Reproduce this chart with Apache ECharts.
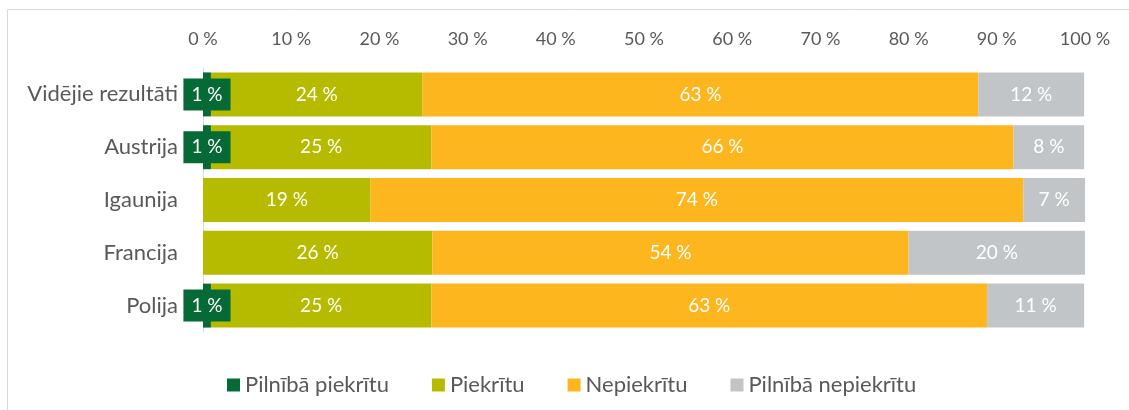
<!DOCTYPE html>
<html>
<head>
<meta charset="utf-8">
<script src="https://cdn.jsdelivr.net/npm/echarts@6/dist/echarts.min.js"></script>
<style>
  html, body { margin: 0; padding: 0; background: #fff; }
  #chart { width: 1129px; height: 410px; }
</style>
</head>
<body>
<div id="chart"></div>
<script>
// kategorijas (no augšas uz leju)
const categories = ['Vidējie rezultāti', 'Austrija', 'Igaunija', 'Francija', 'Polija']
const seriesNames = ['Pilnībā piekrītu', 'Piekrītu', 'Nepiekrītu', 'Pilnībā nepiekrītu']
const fullyAgree = [0.9, 0.9, null, null, 0.9] // Igaunijai un Francijai nav
const agree = [24, 25, 19, 26, 25]
const disagree = [63, 66, 74, 54, 63]
const fullyDisagree = [12, 8, 7, 20, 11]
const colors = ['#066a37', '#b6bb00', '#fdb61d', '#c1c5c7']
const xTicks = [0, 10, 20, 30, 40, 50, 60, 70, 80, 90, 100]

const font = 'Lato, "Open Sans", sans-serif'
const values = [fullyAgree, agree, disagree, fullyDisagree]

const series = values.map((arr, i) => ({
  name: seriesNames[i],
  type: 'bar',
  stack: 'total',
  barWidth: 44,
  data: arr,
  itemStyle: { color: colors[i] },
  label: {
    show: true,
    position: 'inside',
    color: '#fff',
    fontFamily: font,
    fontSize: 19,
    formatter: p => (p.value == null ? '' : Math.round(p.value) + ' %'),
    backgroundColor: i === 0 ? colors[0] : 'transparent',
    padding: i === 0 ? [7, 8, 6, 8] : 0
  },
  labelLayout: { hideOverlap: false }
}))

const chart = echarts.init(document.getElementById('chart'))
chart.setOption({
  animation: false,
  textStyle: { fontFamily: font },
  graphic: [{
    type: 'rect',
    shape: { x: 7.5, y: 9.5, width: 1300, height: 600 },
    style: { fill: 'none', stroke: '#d9d9d9', lineWidth: 1 },
    silent: true
  }],
  grid: { left: 203, right: 44, top: 68, bottom: 78 },
  legend: {
    data: seriesNames,
    left: 222,
    top: 369,
    icon: 'rect',
    itemWidth: 13,
    itemHeight: 13,
    itemGap: 43,
    textStyle: { color: '#595959', fontSize: 22, fontFamily: font }
  },
  xAxis: {
    type: 'value',
    position: 'top',
    min: 0,
    max: 100,
    interval: 10,
    axisLine: { show: false },
    axisTick: { show: false },
    splitLine: { show: false },
    axisLabel: {
      color: '#595959',
      fontSize: 18,
      margin: 20,
      formatter: v => (xTicks.includes(v) ? v + ' %' : '')
    }
  },
  yAxis: {
    type: 'category',
    inverse: true,
    data: categories,
    axisLine: { lineStyle: { color: '#d9d9d9', width: 1 } },
    axisTick: { show: false },
    axisLabel: { color: '#595959', fontSize: 22, margin: 25 }
  },
  series: series
})
</script>
</body>
</html>
